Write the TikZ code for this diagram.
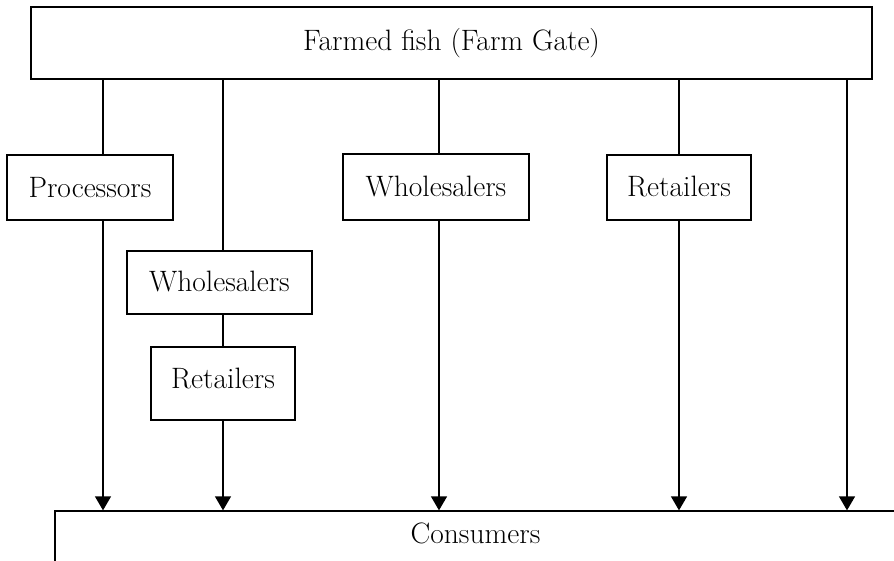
\documentclass[tikz,border=0pt]{standalone}
\usetikzlibrary{arrows.meta}
\begin{document}
\begin{tikzpicture}[x=1pt,y=-1pt,
  box/.style={draw,line width=1.3pt,rectangle,inner sep=0pt,font=\fontsize{29.5}{35}\selectfont},
  link/.style={line width=1.3pt},
  arr/.style={line width=1.3pt,-{Triangle[width=16pt,length=14pt]}}]
\useasboundingbox (0,0) rectangle (894,560);
\clip (0,0) rectangle (894,560);
\node[box,minimum width=841pt,minimum height=72pt] (top) at (451.5,43) {\raisebox{2pt}{Farmed fish (Farm Gate)}};
\node[box,minimum width=166pt,minimum height=65pt] (proc) at (90,187.5) {Processors};
\node[box,minimum width=186pt,minimum height=66pt] (whM) at (436,187) {\raisebox{2pt}{Wholesalers}};
\node[box,minimum width=144pt,minimum height=65pt] (retR) at (679,187.5) {\raisebox{2pt}{Retailers}};
\node[box,minimum width=185pt,minimum height=63pt] (whL) at (219.5,282.5) {\raisebox{2pt}{Wholesalers}};
\node[box,minimum width=144pt,minimum height=73pt] (retL) at (223,383.5) {\raisebox{11pt}{Retailers}};
\node[box,minimum width=841pt,minimum height=53pt] (cons) at (475.5,537.5) {\raisebox{9pt}{Consumers}};
\coordinate (c1) at (103,0);
\coordinate (c2) at (223,0);
\coordinate (c3) at (439,0);
\coordinate (c4) at (679,0);
\coordinate (c5) at (847,0);
\draw[link] (top.south -| c1) -- (proc.north -| c1);
\draw[arr] (proc.south -| c1) -- (cons.north -| c1);
\draw[link] (top.south -| c2) -- (whL.north -| c2);
\draw[link] (whL.south -| c2) -- (retL.north -| c2);
\draw[arr] (retL.south -| c2) -- (cons.north -| c2);
\draw[link] (top.south -| c3) -- (whM.north -| c3);
\draw[arr] (whM.south -| c3) -- (cons.north -| c3);
\draw[link] (top.south -| c4) -- (retR.north -| c4);
\draw[arr] (retR.south -| c4) -- (cons.north -| c4);
\draw[arr] (top.south -| c5) -- (cons.north -| c5);
\end{tikzpicture}
\end{document}
